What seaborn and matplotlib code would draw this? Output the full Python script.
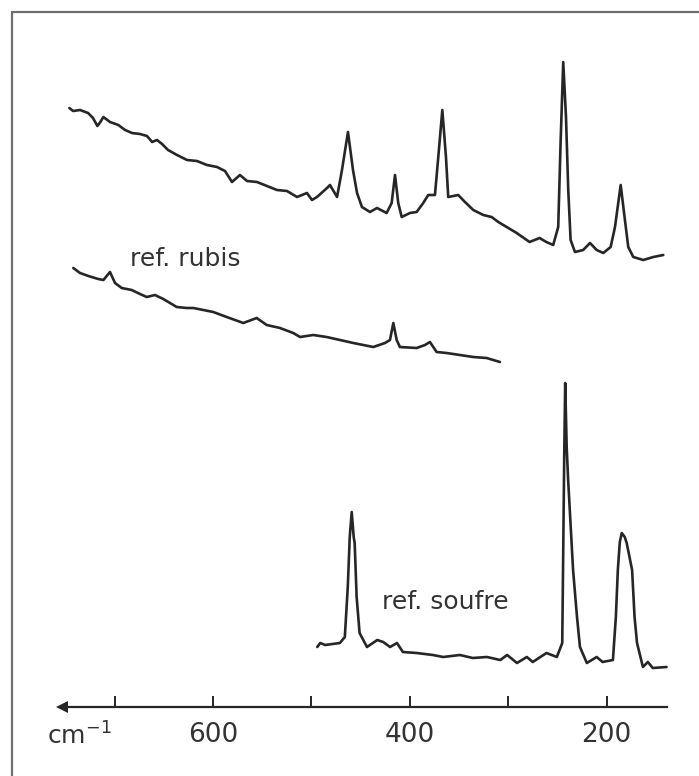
import numpy as np
import pandas as pd
import seaborn as sns
import matplotlib.pyplot as plt
from matplotlib.lines import Line2D
from matplotlib.ticker import FixedLocator, NullFormatter

# spectre de l'echantillon (haut) - nombre d'onde cm-1 / intensite (u.a.)
ech_w = [746.0, 742.2, 735.1, 727.0, 722.0, 717.5, 714.5, 711.4, 704.7, 696.2, 689.4, 682.3,
         674.2, 667.1, 661.9, 656.9, 651.8, 645.7, 636.6, 626.4, 616.3, 606.1, 595.9, 587.8,
         580.7, 572.6, 565.4, 555.3, 545.1, 535.0, 524.8, 514.6, 504.5, 499.4, 494.3, 484.1,
         481.1, 473.9, 468.9, 462.8, 457.7, 453.6, 448.6, 440.4, 433.3, 423.5, 418.4, 415.0,
         411.7, 408.2, 399.8, 393.0, 386.3, 381.2, 374.4, 371.0, 366.9, 363.2, 360.9, 350.7,
         343.9, 335.4, 325.3, 316.8, 310.0, 301.5, 291.3, 278.2, 268.0, 261.2, 254.2, 249.1,
         246.6, 244.0, 241.2, 238.9, 236.5, 232.1, 223.7, 216.8, 210.0, 203.3, 195.8, 191.4,
         185.6, 181.3, 177.9, 172.8, 162.6, 152.5, 142.3]
ech_i = [599, 596, 597, 594, 589, 581, 585, 590, 585, 582, 577, 574,
         573, 571, 565, 567, 563, 557, 552, 547, 546, 542, 540, 536,
         525, 532, 526, 525, 521, 517, 516, 510, 514, 507, 510, 519,
         522, 510, 537, 575, 537, 514, 500, 495, 499, 494, 504, 532,
         504, 490, 494, 495, 504, 512, 512, 550, 597, 550, 510, 512,
         505, 497, 492, 490, 485, 480, 474, 465, 469, 465, 462, 480,
         567, 645, 590, 517, 467, 455, 457, 464, 457, 454, 460, 480,
         522, 487, 460, 450, 447, 450, 452]

# ref. rubis
rub_w = [742.0, 735.2, 726.7, 716.6, 711.4, 704.7, 699.6, 692.8, 682.6, 674.2, 667.4, 659.0,
         650.5, 636.9, 626.7, 620.0, 609.8, 599.7, 586.1, 569.2, 555.6, 545.4, 531.9, 518.4,
         511.6, 498.1, 484.5, 470.9, 457.4, 437.1, 425.2, 420.1, 416.7, 413.3, 410.0, 393.0,
         384.5, 379.5, 372.7, 362.5, 349.0, 335.5, 321.9, 308.3]
rub_i = [439, 434, 431, 428, 427, 435, 424, 419, 417, 413, 410, 412,
         408, 400, 399, 399, 397, 395, 390, 384, 389, 382, 379, 374,
         370, 372, 370, 367, 364, 360, 364, 367, 384, 367, 360, 359,
         362, 365, 355, 354, 352, 350, 349, 345]

# ref. soufre
souf_w = [494, 491, 486, 471, 466, 463, 461, 459, 457, 456, 454, 451, 443.5, 433, 427, 420,
          413, 407, 393, 376.5, 366, 349, 336, 321.5, 308, 301, 291, 281, 275, 261, 250.5,
          245, 243, 242, 240.5, 239, 234, 230, 227, 220, 210, 204, 193.5, 190.5, 188.5,
          186.5, 184.5, 181.5, 179.5, 174, 171.5, 169, 163, 158, 153, 139]
souf_i = [60, 64, 62, 64, 70, 120, 170, 195, 170, 164, 110, 74, 60, 67, 65, 60,
          64, 55, 54, 52, 50, 52, 49, 50, 47, 52, 44, 50, 45, 54, 50,
          64, 250, 324, 260, 227, 137, 90, 60, 44, 50, 45, 47, 90, 137,
          165, 174, 170, 164, 137, 90, 64, 40, 45, 39, 40]

major_ticks = [600, 400, 200]
minor_ticks = [700, 500, 300]

df = pd.concat([
    pd.DataFrame({'w': ech_w, 'i': ech_i, 'spectre': 'echantillon'}),
    pd.DataFrame({'w': rub_w, 'i': rub_i, 'spectre': 'ref. rubis'}),
    pd.DataFrame({'w': souf_w, 'i': souf_i, 'spectre': 'ref. soufre'}),
])

sns.set_theme(style='white')
plt.rcParams['font.family'] = ['DejaVu Sans']

ink = '#262626'
txt = '#333333'
fig = plt.figure(figsize=(6.99, 7.76), dpi=100)
ax = fig.add_axes([0, 0, 1, 1])

for nom, d in df.groupby('spectre'):
    sns.lineplot(data=d, x='w', y='i', ax=ax, sort=False, estimator=None,
                 color=ink, lw=1.9, legend=False)

ax.set_xlim(816.5, 106)
ax.set_ylim(-69, 707)
ax.set_xlabel('')
ax.set_ylabel('')
ax.patch.set_alpha(0)

# axe des abscisses avec fleche vers la gauche
axis_lo, axis_hi = 139, 753
for s in ['left', 'right', 'top']:
    ax.spines[s].set_visible(False)
ax.spines['bottom'].set_position(('data', 0))
ax.spines['bottom'].set_bounds(axis_lo, axis_hi)
ax.spines['bottom'].set_color(ink)
ax.spines['bottom'].set_linewidth(1.6)
ax.plot([axis_hi], [0], marker='<', ms=9, color=ink, clip_on=False,
        markeredgewidth=0)

ax.xaxis.set_major_locator(FixedLocator(major_ticks))
ax.xaxis.set_minor_locator(FixedLocator(minor_ticks))
ax.xaxis.set_minor_formatter(NullFormatter())
ax.tick_params(axis='x', which='both', direction='in', length=8, width=1.4,
               color=ink, bottom=True, pad=11, labelsize=19, labelcolor=txt)
ax.set_yticks([])

ax.text(736, -29, 'cm$^{-1}$', ha='center', va='center', fontsize=18, color=txt)
ax.text(684, 448, 'ref. rubis', ha='left', va='center', fontsize=18, color=txt)
ax.text(428, 105, 'ref. soufre', ha='left', va='center', fontsize=18, color=txt)

# cadre du scan
fig.add_artist(Line2D([12 / 699, 12 / 699], [0, 1 - 12 / 776], color='#6f6f6f', lw=1.6))
fig.add_artist(Line2D([12 / 699, 1], [1 - 12 / 776, 1 - 12 / 776], color='#6f6f6f', lw=1.6))

fig.savefig('out.png', dpi=100)
